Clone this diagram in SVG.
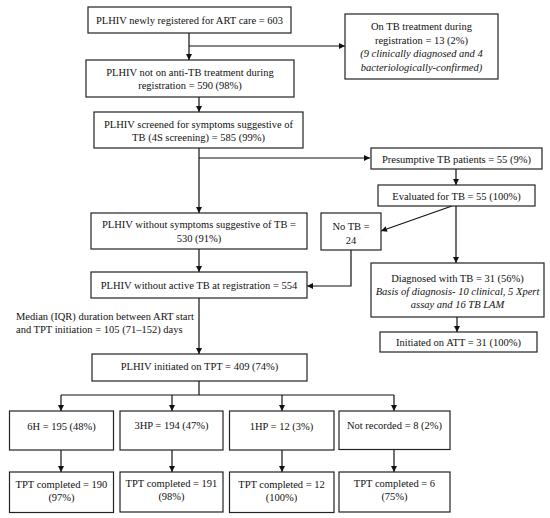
<svg xmlns="http://www.w3.org/2000/svg" width="550" height="518" viewBox="0 0 550 518">
<defs>
<marker id="ah" viewBox="0 0 10 10" refX="10" refY="5" markerWidth="6" markerHeight="6" markerUnits="userSpaceOnUse" orient="auto">
<path d="M0,0 L10,5 L0,10 z" fill="#111"/>
</marker>
</defs>
<style>
.b{fill:#fff;stroke:#222;stroke-width:1.2}
text{font-family:"Liberation Serif","DejaVu Serif",serif;font-size:10.5px;fill:#111;text-anchor:middle}
.i{font-style:italic}
.l{text-anchor:start}
.c{fill:none;stroke:#111;stroke-width:1.2}
</style>
<rect width="550" height="518" fill="#fff"/>
<g id="connectors">
<path class="c" d="M189,33 V60" marker-end="url(#ah)"/>
<path class="c" d="M189,46 H345" marker-end="url(#ah)"/>
<path class="c" d="M199,97 V112" marker-end="url(#ah)"/>
<path class="c" d="M199,148 V213" marker-end="url(#ah)"/>
<path class="c" d="M199,158 H370" marker-end="url(#ah)"/>
<path class="c" d="M456,169 V185" marker-end="url(#ah)"/>
<path class="c" d="M456,206 V263" marker-end="url(#ah)"/>
<path class="c" d="M452,206 L381,231" marker-end="url(#ah)"/>
<path class="c" d="M351,250 V286 H307" marker-end="url(#ah)"/>
<path class="c" d="M199,249 V272" marker-end="url(#ah)"/>
<path class="c" d="M457,317 V332" marker-end="url(#ah)"/>
<path class="c" d="M199,298 V354" marker-end="url(#ah)"/>
<path class="c" d="M199,381 V395"/>
<path class="c" d="M61,395 H394"/>
<path class="c" d="M61,395 V411" marker-end="url(#ah)"/>
<path class="c" d="M172,395 V411" marker-end="url(#ah)"/>
<path class="c" d="M282,395 V411" marker-end="url(#ah)"/>
<path class="c" d="M394,395 V411" marker-end="url(#ah)"/>
<path class="c" d="M61,450 V472" marker-end="url(#ah)"/>
<path class="c" d="M172,450 V472" marker-end="url(#ah)"/>
<path class="c" d="M282,450 V472" marker-end="url(#ah)"/>
<path class="c" d="M394,450 V472" marker-end="url(#ah)"/>
</g>
<g id="n1"><rect class="b" x="88" y="7" width="203" height="26"/><text x="189.5" y="24">PLHIV newly registered for ART care = 603</text></g>
<g id="n2"><rect class="b" x="345" y="14" width="153" height="65"/><text x="421.5" y="30">On TB treatment during</text><text x="421.5" y="43.5">registration = 13 (2%)</text><text class="i" x="421.5" y="57">(9 clinically diagnosed and 4</text><text class="i" x="421.5" y="70.5">bacteriologically-confirmed)</text></g>
<g id="n3"><rect class="b" x="86" y="60" width="208" height="37"/><text x="190" y="75.5">PLHIV not on anti-TB treatment during</text><text x="190" y="89">registration = 590 (98%)</text></g>
<g id="n4"><rect class="b" x="94" y="112" width="209" height="36"/><text x="198.5" y="127.5">PLHIV screened for symptoms suggestive of</text><text x="198.5" y="141">TB (4S screening) = 585 (99%)</text></g>
<g id="n5"><rect class="b" x="371" y="148" width="171" height="21"/><text x="456.5" y="162.5">Presumptive TB patients = 55 (9%)</text></g>
<g id="n6"><rect class="b" x="378" y="185" width="157" height="21"/><text x="456.5" y="199.5">Evaluated for TB = 55 (100%)</text></g>
<g id="n7"><rect class="b" x="91" y="213" width="216" height="36"/><text x="199" y="227.5">PLHIV without symptoms suggestive of TB =</text><text x="199" y="242">530 (91%)</text></g>
<g id="n8"><rect class="b" x="321" y="213" width="60" height="37"/><text x="351" y="230">No TB =</text><text x="351" y="244">24</text></g>
<g id="n9"><rect class="b" x="91" y="272" width="216" height="26"/><text x="199" y="288.5">PLHIV without active TB at registration = 554</text></g>
<g id="n10"><rect class="b" x="371" y="263" width="173" height="54"/><text x="457.5" y="281.5">Diagnosed with TB = 31 (56%)</text><text class="i" x="457.5" y="294.5">Basis of diagnosis- 10 clinical, 5 Xpert</text><text class="i" x="457.5" y="308">assay and 16 TB LAM</text></g>
<g id="n11"><rect class="b" x="380" y="332" width="157" height="20"/><text x="458.5" y="346">Initiated on ATT = 31 (100%)</text></g>
<g id="note"><text class="l" x="16" y="320">Median (IQR) duration between ART start</text><text class="l" x="16" y="333">and TPT initiation = 105 (71–152) days</text></g>
<g id="n12"><rect class="b" x="92" y="354" width="215" height="27"/><text x="199.5" y="369.5">PLHIV initiated on TPT =  409 (74%)</text></g>
<g id="n13"><rect class="b" x="9.5" y="411" width="104" height="39"/><text x="61.5" y="430">6H = 195 (48%)</text></g>
<g id="n14"><rect class="b" x="120" y="411" width="103" height="39"/><text x="171.5" y="429">3HP = 194 (47%)</text></g>
<g id="n15"><rect class="b" x="229.5" y="411" width="104.5" height="39"/><text x="281.5" y="430">1HP = 12 (3%)</text></g>
<g id="n16"><rect class="b" x="339" y="411" width="111" height="38.5"/><text x="394.5" y="429">Not recorded = 8 (2%)</text></g>
<g id="n17"><rect class="b" x="9.5" y="472" width="104" height="40.5"/><text x="61.5" y="488">TPT completed = 190</text><text x="61.5" y="501">(97%)</text></g>
<g id="n18"><rect class="b" x="120" y="472" width="103" height="40"/><text x="171.5" y="487">TPT completed = 191</text><text x="171.5" y="500">(98%)</text></g>
<g id="n19"><rect class="b" x="229.5" y="472" width="104.5" height="40.5"/><text x="281.5" y="488">TPT completed = 12</text><text x="281.5" y="501">(100%)</text></g>
<g id="n20"><rect class="b" x="339" y="472" width="111" height="40"/><text x="394.5" y="487">TPT completed = 6</text><text x="394.5" y="500">(75%)</text></g>
</svg>
